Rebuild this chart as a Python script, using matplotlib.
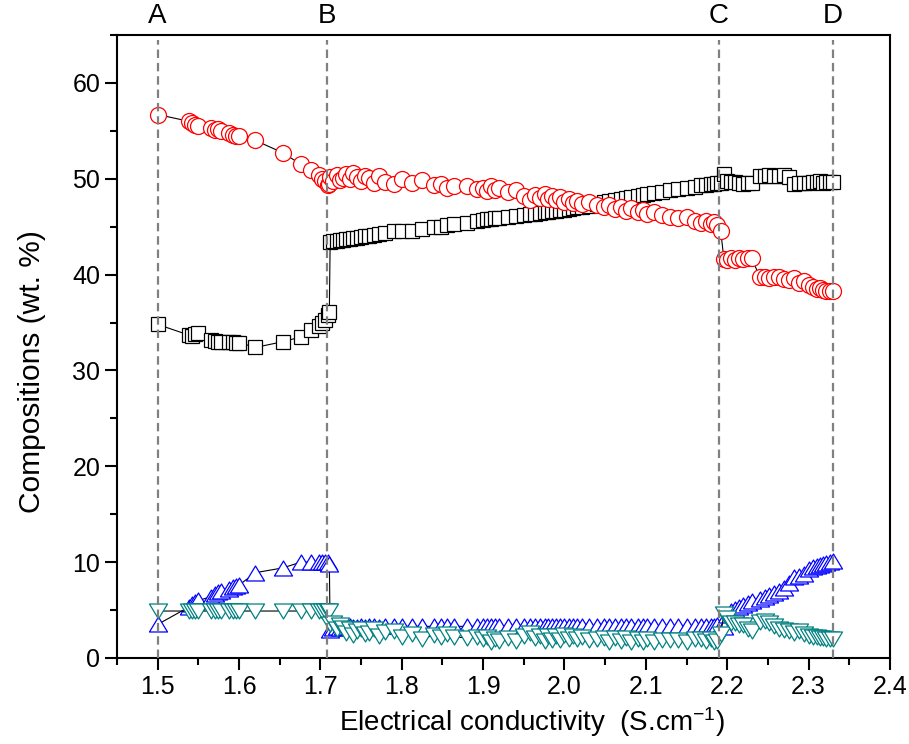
import matplotlib
matplotlib.use("Agg")
import matplotlib.pyplot as plt
from matplotlib.path import Path
from matplotlib.ticker import MultipleLocator, FormatStrFormatter

plt.rcParams["font.family"] = ["Liberation Sans", "DejaVu Sans"]
plt.rcParams["mathtext.default"] = "regular"

# electrical conductivity (S/cm), one value per sample
cond = [1.500, 1.538, 1.542, 1.546, 1.550, 1.566, 1.570, 1.574, 1.578, 1.588,
        1.592, 1.596, 1.600, 1.620, 1.654, 1.676, 1.688, 1.698, 1.702, 1.706,
        1.709, 1.711,
        1.712, 1.716, 1.720, 1.724, 1.728, 1.732, 1.736, 1.740, 1.745, 1.750,
        1.755, 1.760, 1.766, 1.772, 1.780, 1.790, 1.800, 1.812, 1.825, 1.840,
        1.848, 1.856, 1.864, 1.880, 1.892, 1.900, 1.905, 1.910, 1.915, 1.920,
        1.930, 1.940, 1.950, 1.958, 1.964, 1.970, 1.976, 1.980, 1.985, 1.990,
        1.995, 2.000, 2.005, 2.010, 2.016, 2.022, 2.030, 2.040, 2.048, 2.055,
        2.062, 2.070, 2.076, 2.082, 2.090, 2.096, 2.102, 2.110, 2.120, 2.130,
        2.140, 2.150, 2.160, 2.168, 2.174, 2.180, 2.184, 2.188,
        2.192, 2.196, 2.200, 2.205, 2.210, 2.215, 2.220, 2.225, 2.230, 2.240,
        2.246, 2.252, 2.258, 2.264, 2.270, 2.276, 2.282, 2.288, 2.294, 2.300,
        2.306, 2.310, 2.314, 2.318, 2.322, 2.326, 2.330]

# red circles
circles = [56.7, 56.0, 55.8, 55.6, 55.5, 55.3, 55.1, 55.2, 55.0, 54.8,
           54.6, 54.5, 54.5, 54.0, 52.7, 51.5, 50.9, 50.4, 50.0, 49.8,
           49.3, 49.4,
           50.2, 49.8, 50.4, 49.9, 50.1, 50.5, 50.0, 50.6, 50.2, 49.8,
           50.3, 50.1, 49.6, 50.3, 49.7, 49.4, 50.0, 49.6, 49.9, 49.3,
           49.5, 49.0, 49.2, 49.2, 48.9, 49.0, 48.7, 49.2, 48.8, 49.0,
           48.6, 48.8, 48.2, 47.8, 48.3, 48.0, 48.4, 47.9, 48.2, 47.8,
           48.1, 47.6, 47.9, 47.5, 47.7, 47.4, 47.6, 47.3, 47.0, 47.3,
           46.8, 47.0, 46.6, 46.9, 46.5, 46.7, 46.3, 46.5, 46.2, 46.0,
           45.9, 46.0, 45.6, 45.4, 45.6, 45.3, 45.5, 45.2,
           44.6, 41.6, 41.5, 41.7, 41.5, 41.7, 41.6, 41.7, 41.7, 39.8,
           39.7, 39.6, 39.7, 39.8, 39.5, 39.4, 39.6, 39.1, 39.3, 38.9,
           38.7, 38.5, 38.6, 38.4, 38.3, 38.3, 38.3]

# black squares
squares = [34.8, 33.7, 33.6, 33.8, 33.9, 33.2, 33.1, 33.0, 33.0, 33.0,
           33.0, 32.9, 32.9, 32.4, 33.0, 33.5, 34.2, 34.6, 35.0, 35.3,
           35.8, 36.1,
           43.4, 43.5, 43.5, 43.6, 43.6, 43.7, 43.7, 43.8, 43.8, 43.9,
           44.0, 44.0, 44.1, 44.2, 44.3, 44.5, 44.5, 44.6, 44.8, 45.0,
           45.0, 45.2, 45.3, 45.4, 45.6, 45.7, 45.8, 45.8, 45.9, 45.9,
           46.0, 46.1, 46.2, 46.3, 46.3, 46.4, 46.5, 46.5, 46.6, 46.6,
           46.7, 46.7, 46.8, 46.9, 47.0, 47.1, 47.2, 47.4, 47.6, 47.7,
           47.8, 47.9, 48.0, 48.1, 48.2, 48.3, 48.4, 48.5, 48.6, 48.8,
           48.9, 49.0, 49.1, 49.3, 49.3, 49.4, 49.5, 49.6,
           49.6, 50.5, 49.8, 49.7, 49.7, 49.6, 49.5, 49.6, 49.6, 50.3,
           50.3, 50.4, 50.3, 50.3, 50.4, 50.2, 49.5, 49.6, 49.6, 49.6,
           49.7, 49.7, 49.8, 49.6, 49.7, 49.7, 49.7]

# blue up-triangles
up_tri = [3.5, 5.3, 5.6, 5.8, 6.0, 6.4, 6.7, 6.9, 7.0, 7.2,
          7.4, 7.5, 7.6, 8.9, 9.4, 10.0, 10.0, 10.0, 10.0, 10.0,
          10.0, 9.8,
          2.9, 3.1, 3.2, 3.1, 3.2, 3.2, 3.3, 3.2, 3.2, 3.3,
          3.2, 3.3, 3.3, 3.2, 3.3, 3.3, 3.3, 3.3, 3.3, 3.3,
          3.3, 3.3, 3.3, 3.3, 3.3, 3.3, 3.3, 3.3, 3.3, 3.3,
          3.3, 3.3, 3.3, 3.3, 3.3, 3.3, 3.3, 3.3, 3.3, 3.3,
          3.3, 3.3, 3.3, 3.3, 3.3, 3.3, 3.3, 3.3, 3.3, 3.3,
          3.3, 3.3, 3.3, 3.3, 3.3, 3.3, 3.3, 3.3, 3.3, 3.3,
          3.3, 3.3, 3.3, 3.3, 3.3, 3.3, 3.3, 3.4,
          3.3, 3.2, 4.5, 4.9, 5.1, 5.3, 5.5, 5.7, 5.9, 6.2,
          6.4, 6.6, 6.8, 7.0, 7.3, 7.8, 8.4, 8.6, 8.8, 9.3,
          9.5, 9.6, 9.7, 9.8, 9.9, 10.0, 10.1]

# teal down-triangles
down_tri = [4.9, 4.9, 4.9, 4.9, 4.9, 4.9, 4.9, 4.9, 4.9, 4.9,
            4.9, 4.9, 4.9, 4.9, 4.9, 4.9, 4.9, 4.9, 4.9, 4.9,
            4.9, 4.9,
            3.5, 3.6, 3.0, 3.4, 3.1, 2.6, 3.0, 2.4, 2.8, 3.0,
            2.5, 2.6, 3.0, 2.3, 2.7, 2.8, 2.2, 2.5, 2.0, 2.4,
            2.2, 2.5, 2.2, 2.1, 2.2, 2.0, 2.2, 1.7, 2.0, 1.8,
            2.1, 1.8, 2.3, 2.6, 2.1, 2.3, 1.8, 2.3, 1.9, 2.3,
            1.9, 2.4, 2.0, 2.3, 2.0, 2.2, 1.9, 2.0, 2.1, 1.7,
            2.1, 1.8, 2.1, 1.7, 2.0, 1.7, 2.0, 1.7, 1.9, 1.9,
            1.9, 1.7, 2.0, 2.0, 1.8, 2.0, 1.7, 1.8,
            2.5, 4.6, 4.2, 3.7, 3.7, 3.4, 3.4, 3.0, 2.8, 3.8,
            3.9, 3.6, 3.3, 3.0, 2.9, 2.8, 2.6, 2.8, 2.5, 2.3,
            2.2, 2.2, 2.1, 2.1, 2.0, 2.0, 2.0]

marks = [1.50, 1.708, 2.19, 2.33]
mark_labels = ["A", "B", "C", "D"]

tri_up = Path([(-1, -0.83), (1, -0.83), (0, 0.83), (-1, -0.83)], closed=True)
tri_down = Path([(-1, 0.83), (1, 0.83), (0, -0.83), (-1, 0.83)], closed=True)

fig = plt.figure(figsize=(9.09, 7.44), dpi=100)
ax = fig.add_axes([0.1287, 0.1156, 0.8503, 0.8374])

common = dict(color="k", lw=0.8, mfc="white", mew=0.9)
ax.plot(cond, squares, marker="s", ms=10.2, mec="black", **common)
ax.plot(cond, circles, marker="o", ms=11.5, mec="red", **common)
ax.plot(cond, up_tri, marker=tri_up, ms=13, mec="blue", **common)
ax.plot(cond, down_tri, marker=tri_down, ms=13, mec="#008080", **common)

for xm, lab in zip(marks, mark_labels):
    ax.axvline(xm, ymin=0, ymax=0.992, color="#808080", lw=1.6,
               dashes=(3.8, 2.2), zorder=10)
    ax.text(xm, 1.03, lab, transform=ax.get_xaxis_transform(),
            ha="center", va="center", fontsize=20)

ax.set_xlim(1.45, 2.4)
ax.set_ylim(0, 65)
ax.xaxis.set_major_locator(MultipleLocator(0.1))
ax.xaxis.set_minor_locator(MultipleLocator(0.05))
ax.yaxis.set_major_locator(MultipleLocator(10))
ax.yaxis.set_minor_locator(MultipleLocator(5))
ax.xaxis.set_major_formatter(FormatStrFormatter("%.1f"))

for s in ax.spines.values():
    s.set_linewidth(1.5)
ax.tick_params(which="both", direction="out", width=1.5, labelsize=18,
               top=False, right=False)
ax.tick_params(which="major", length=8.5)
ax.tick_params(which="minor", length=4.8)

ax.set_xlabel(r"Electrical conductivity  (S.cm$^{-1}$)", fontsize=20)
ax.set_ylabel("Compositions (wt. %)", fontsize=21.5)
ax.xaxis.set_label_coords(0.537, -0.075)
ax.yaxis.set_label_coords(-0.092, 0.46)

fig.savefig("out.png", dpi=100)
